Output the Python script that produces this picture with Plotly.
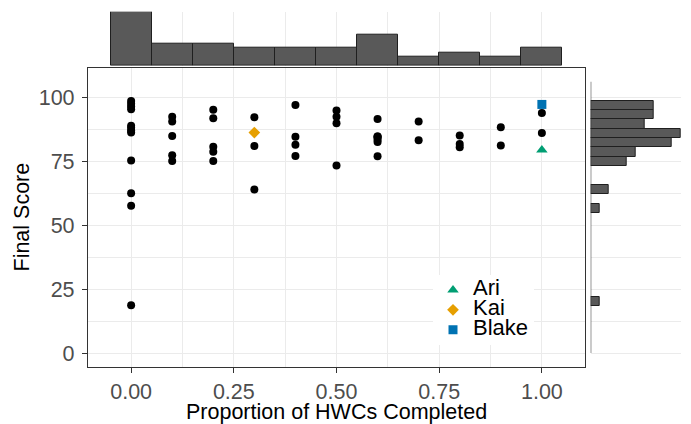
import plotly.graph_objects as go

# ---- data ----
hwc = ([0.0] * 12 + [0.1] * 5 + [0.2] * 5 + [0.3] * 3 + [0.4] * 4 + [0.5] * 4
       + [0.6] * 7 + [0.7] * 2 + [0.8] * 3 + [0.9] * 2 + [1.0] * 2)
final_score = [
    98.4, 97.4, 96.3, 95.2, 88.8, 88.0, 86.9, 86.1, 75.2, 62.4, 57.5, 18.7,  # 0.0
    92.3, 90.4, 84.8, 77.2, 75.0,                                            # 0.1
    95.0, 91.7, 80.6, 78.6, 75.0,                                            # 0.2
    92.1, 80.9, 63.9,                                                        # 0.3
    96.9, 84.5, 81.3, 77.0,                                                  # 0.4
    94.7, 92.3, 89.7, 73.2,                                                  # 0.5
    91.4, 84.6, 84.6, 84.2, 83.3, 82.4, 76.9,                                # 0.6
    90.4, 83.1,                                                              # 0.7
    85.0, 81.6, 80.4,                                                        # 0.8
    88.2, 81.1,                                                              # 0.9
    93.75, 85.9,                                                             # 1.0
]
hl_names = ["Ari", "Kai", "Blake"]
hl_hwc = [1.0, 0.3, 1.0]
hl_score = [79.3, 86.1, 97.1]
hl_colors = ["#009E73", "#E69F00", "#0072B2"]
hl_symbols = ["triangle-up", "diamond", "square"]
hl_sizes = [10, 9, 9]

x_ticks = [0.0, 0.25, 0.5, 0.75, 1.0]
y_ticks = [0, 25, 50, 75, 100]

all_hwc = hwc + hl_hwc
all_score = final_score + hl_score

# page body has an 8px margin: figure placed so that it fills the 691x424 window
OFF = 8
W, H = 691 - OFF, 424 - OFF
FONT = "Liberation Sans, Arial, Helvetica, sans-serif"
BAR_FILL = "#595959"
BAR_LINE = "#1f1f1f"

def px_x(p):
    return (p - OFF) / W

def px_y(p):
    return (H - (p - OFF)) / H

fig = go.Figure()

# main scatter
fig.add_trace(go.Scatter(
    x=hwc, y=final_score, mode="markers",
    marker=dict(color="black", size=8),
    showlegend=False, xaxis="x", yaxis="y", hoverinfo="x+y"))

for n, xx, yy, c, s, sz in zip(hl_names, hl_hwc, hl_score, hl_colors, hl_symbols, hl_sizes):
    fig.add_trace(go.Scatter(
        x=[xx], y=[yy], mode="markers", name='<span style="font-size:22px">%s</span>' % n,
        marker=dict(color=c, symbol=s, size=sz),
        xaxis="x", yaxis="y"))

# top marginal histogram
fig.add_trace(go.Histogram(
    x=all_hwc, xbins=dict(start=-0.05, end=1.05, size=0.1),
    marker=dict(color=BAR_FILL, line=dict(color=BAR_LINE, width=1)),
    showlegend=False, xaxis="x", yaxis="y2"))

# right marginal histogram
fig.add_trace(go.Histogram(
    y=all_score, ybins=dict(start=18.2, end=98.6, size=3.652),
    orientation="h",
    marker=dict(color=BAR_FILL, line=dict(color=BAR_LINE, width=1)),
    showlegend=False, xaxis="x2", yaxis="y"))

grid_c = "#ebebeb"
fig.update_layout(
    width=W, height=H,
    margin=dict(l=0, r=0, t=0, b=0),
    paper_bgcolor="white", plot_bgcolor="rgba(0,0,0,0)",
    font=dict(family=FONT, color="black"),
    bargap=0,
    xaxis=dict(
        domain=[px_x(88), px_x(585)], range=[-0.105, 1.105], anchor="y",
        tickvals=x_ticks, ticktext=["%.2f" % v for v in x_ticks],
        ticks="outside", ticklen=5, tickwidth=1.1, tickcolor="#333333",
        tickfont=dict(size=21.5, color="#4d4d4d", family=FONT),
        showline=True, mirror=True, linecolor="#333333", linewidth=1.3,
        showgrid=True, gridcolor=grid_c, gridwidth=1.1, zeroline=False,
        minor=dict(tickvals=[-0.125 + 0.25 * i for i in range(6)], showgrid=True,
                   gridcolor=grid_c, gridwidth=0.6, ticks=""),
    ),
    yaxis=dict(
        domain=[px_y(367), px_y(68)], range=[-5.47, 111.33], anchor="x",
        tickvals=y_ticks, ticklabelstandoff=3,
        ticks="outside", ticklen=5, tickwidth=1.1, tickcolor="#333333",
        tickfont=dict(size=21.5, color="#4d4d4d", family=FONT),
        showline=True, mirror=True, linecolor="#333333", linewidth=1.3,
        showgrid=True, gridcolor=grid_c, gridwidth=1.1, zeroline=False,
        minor=dict(tickvals=[-12.5 + 25 * i for i in range(6)], showgrid=True,
                   gridcolor=grid_c, gridwidth=0.6, ticks=""),
    ),
    xaxis2=dict(domain=[px_x(590.7), px_x(681)], range=[0, 10], anchor="y",
                visible=False, showgrid=False, zeroline=False),
    yaxis2=dict(domain=[px_y(65.7), px_y(11.7)], range=[0, 12], anchor="x",
                visible=False, showgrid=False, zeroline=False),
    legend=dict(
        x=px_x(433), y=px_y(275), xanchor="left", yanchor="top",
        bgcolor="white", borderwidth=0,
        font=dict(size=13, color="black", family=FONT),
        itemsizing="trace",
    ),
    annotations=[
        dict(text="Proportion of HWCs Completed", xref="paper", yref="paper",
             x=px_x(336.5), y=px_y(411.7), xanchor="center", yanchor="middle",
             showarrow=False, font=dict(size=21.5, color="black", family=FONT)),
        dict(text="Final Score", xref="paper", yref="paper",
             x=px_x(22), y=px_y(217.5), xanchor="center", yanchor="middle",
             textangle=-90, showarrow=False,
             font=dict(size=21.5, color="black", family=FONT)),
    ],
    shapes=[
        dict(type="line", xref="x2", yref="y", x0=0, x1=0, y0=0, y1=106,
             line=dict(color="#333333", width=1.1)),
    ],
)

fig.write_html("out.html")
